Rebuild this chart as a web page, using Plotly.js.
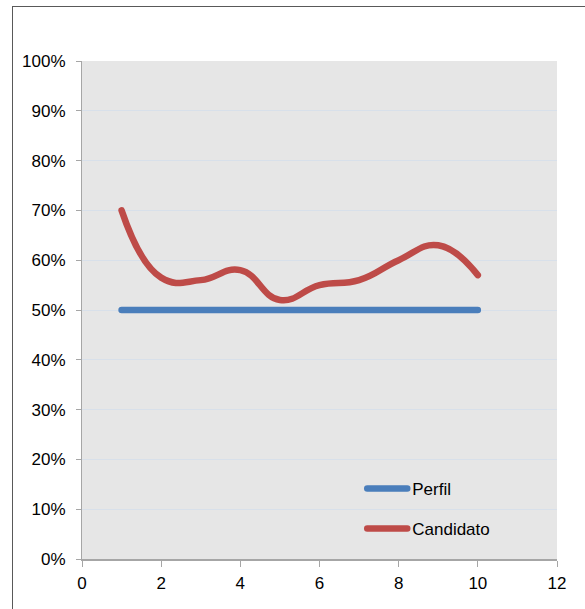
<!DOCTYPE html>
<html>
<head>
<meta charset="utf-8">
<script src="https://cdn.plot.ly/plotly-3.0.1.min.js"></script>
<style>
  html, body { margin: 0; padding: 0; background: #ffffff; }
  #frame { position: absolute; left: 12px; top: 6px; width: 700px; height: 700px;
           border-left: 1.5px solid #595959; border-top: 1.5px solid #595959; box-sizing: border-box; }
  #chart { position: absolute; left: 0; top: 0; width: 585px; height: 609px; }
  .js-line { stroke-linecap: round; stroke-linejoin: round; }
</style>
</head>
<body>
<div id="frame"></div>
<div id="chart"></div>
<script>
const xValues = [1, 2, 3, 4, 5, 6, 7, 8, 9, 10];
const perfil = [0.50, 0.50, 0.50, 0.50, 0.50, 0.50, 0.50, 0.50, 0.50, 0.50];
const candidato = [0.70, 0.565, 0.56, 0.58, 0.52, 0.55, 0.56, 0.60, 0.63, 0.57];
const seriesNames = ['Perfil', 'Candidato'];

const traces = [
  { x: xValues, y: perfil, name: seriesNames[0], type: 'scatter', mode: 'lines',
    line: { color: '#4a7ebb', width: 6.5, shape: 'spline', smoothing: 1.3 }, legendgroup: 'a' },
  { x: xValues, y: candidato, name: seriesNames[1], type: 'scatter', mode: 'lines',
    line: { color: '#be4b48', width: 6.5, shape: 'spline', smoothing: 1.3 }, legendgroup: 'b' }
];

const layout = {
  width: 585, height: 609,
  margin: { l: 82, r: 28, t: 61, b: 50 },
  paper_bgcolor: 'rgba(0,0,0,0)',
  plot_bgcolor: '#e6e6e6',
  font: { family: 'Liberation Sans, Arial, sans-serif', size: 17, color: '#000000' },
  showlegend: true,
  legend: {
    x: 0.59, y: 0.177, xanchor: 'left', yanchor: 'top',
    bgcolor: 'rgba(0,0,0,0)', traceorder: 'grouped', tracegroupgap: 15,
    itemwidth: 40, font: { size: 17 }
  },
  xaxis: {
    range: [0, 12], dtick: 2, tick0: 0, showgrid: false, zeroline: false,
    showline: true, linecolor: '#a6a6a6', linewidth: 2,
    ticks: 'outside', ticklen: 6, tickcolor: '#a6a6a6', tickwidth: 1,
    ticklabelstandoff: 2
  },
  yaxis: {
    range: [0, 1], dtick: 0.1, tick0: 0, tickformat: '.0%',
    showgrid: true, gridcolor: '#d8e0ea', gridwidth: 1, zeroline: false,
    showline: true, linecolor: '#a6a6a6', linewidth: 1,
    ticks: 'outside', ticklen: 5, tickcolor: '#a6a6a6', tickwidth: 1,
    ticklabelstandoff: 7
  }
};

Plotly.newPlot('chart', traces, layout, { displayModeBar: false, staticPlot: true });
</script>
</body>
</html>
